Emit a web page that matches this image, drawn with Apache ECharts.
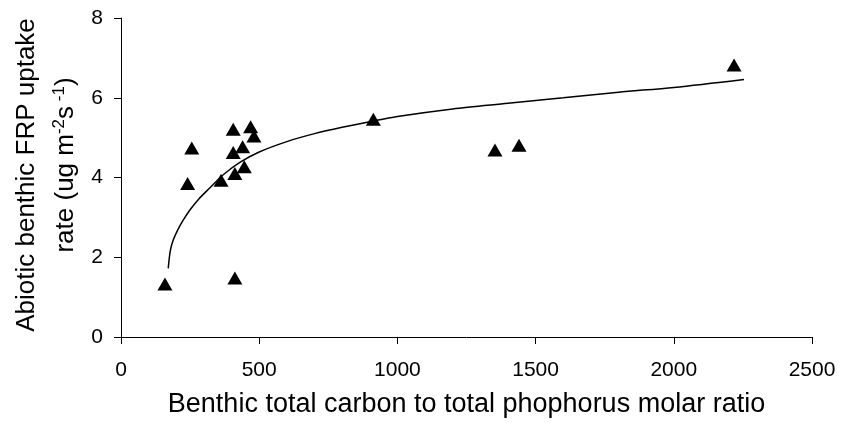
<!DOCTYPE html>
<html>
<head>
<meta charset="utf-8">
<script src="https://cdn.jsdelivr.net/npm/echarts@6/dist/echarts.min.js"></script>
<style>
  html, body { margin: 0; padding: 0; background: #ffffff; }
  #chart { width: 842px; height: 428px; }
</style>
</head>
<body>
<div id="chart"></div>
<script>
// Benthic C:P molar ratio vs abiotic FRP uptake rate (observations)
const cpRatio   = [159, 412, 241, 256, 362, 412, 446, 406, 440, 406, 469, 481, 913, 1353, 1440, 2218];
const frpUptake = [1.33, 1.48, 3.85, 4.74, 3.93, 4.10, 4.27, 4.63, 4.77, 5.21, 5.27, 5.04, 5.46, 4.69, 4.81, 6.82];

// Fitted trend curve
const fitRatio  = [171, 175, 180, 190, 205, 225, 250, 280, 320, 370, 430, 500, 600, 700, 800, 900, 1000, 1200, 1400, 1600, 1800, 2000, 2254];
const fitUptake = [1.72, 2.00, 2.22, 2.45, 2.68, 2.93, 3.19, 3.45, 3.73, 4.07, 4.38, 4.64, 4.90, 5.10, 5.26, 5.40, 5.53, 5.72, 5.86, 6.00, 6.14, 6.26, 6.46];

// Axis settings
const xTicks = [0, 500, 1000, 1500, 2000, 2500];
const yTicks = [0, 2, 4, 6, 8];

const xTitle = 'Benthic total carbon to total phophorus molar ratio';
const yTitleLine1 = 'Abiotic benthic FRP uptake';
const yTitleLine2 = 'rate (ug m{sup|-2}s{sup| -1})';

const FONT = '"Liberation Sans", Arial, sans-serif';

const points = cpRatio.map((x, i) => [x, frpUptake[i]]);
const curve = fitRatio.map((x, i) => [x, fitUptake[i]]);

const chart = echarts.init(document.getElementById('chart'), null, { renderer: 'canvas' });

const axisCommon = {
  type: 'value',
  axisLine: { show: true, lineStyle: { color: '#000', width: 1 } },
  axisTick: { show: true, inside: false, length: 7, lineStyle: { color: '#000', width: 1 } },
  splitLine: { show: false },
  axisLabel: { color: '#000', fontFamily: FONT, fontSize: 21, formatter: v => String(v) }
};

chart.setOption({
  animation: false,
  backgroundColor: '#ffffff',
  grid: { left: 121, right: 30, top: 18, bottom: 91, containLabel: false },
  xAxis: Object.assign({}, axisCommon, {
    min: xTicks[0],
    max: xTicks[xTicks.length - 1],
    interval: xTicks[1] - xTicks[0],
    axisLabel: Object.assign({}, axisCommon.axisLabel, { margin: 23 }),
    name: xTitle,
    nameLocation: 'middle',
    nameGap: 54,
    nameTextStyle: { color: '#000', fontFamily: FONT, fontSize: 27 }
  }),
  yAxis: Object.assign({}, axisCommon, {
    min: yTicks[0],
    max: yTicks[yTicks.length - 1],
    interval: yTicks[1] - yTicks[0],
    axisLabel: Object.assign({}, axisCommon.axisLabel, { margin: 18 })
  }),
  graphic: [
    {
      type: 'text',
      x: 27, y: 175,
      rotation: Math.PI / 2,
      style: {
        text: yTitleLine1,
        fill: '#000',
        font: '26px ' + FONT,
        align: 'center',
        verticalAlign: 'middle'
      }
    },
    {
      type: 'text',
      x: 66, y: 165,
      rotation: Math.PI / 2,
      style: {
        text: yTitleLine2,
        fill: '#000',
        font: '26px ' + FONT,
        align: 'center',
        verticalAlign: 'middle',
        rich: {
          sup: { fontSize: 17, fontFamily: FONT, fill: '#000', verticalAlign: 'top', lineHeight: 30 }
        }
      }
    }
  ],
  series: [
    {
      type: 'line',
      data: curve,
      showSymbol: false,
      symbol: 'none',
      smooth: 0.3,
      lineStyle: { color: '#000', width: 1.5 },
      z: 2
    },
    {
      type: 'scatter',
      data: points,
      symbol: 'triangle',
      symbolSize: [15, 13],
      itemStyle: { color: '#000', opacity: 1 },
      z: 3
    }
  ]
});
</script>
</body>
</html>
